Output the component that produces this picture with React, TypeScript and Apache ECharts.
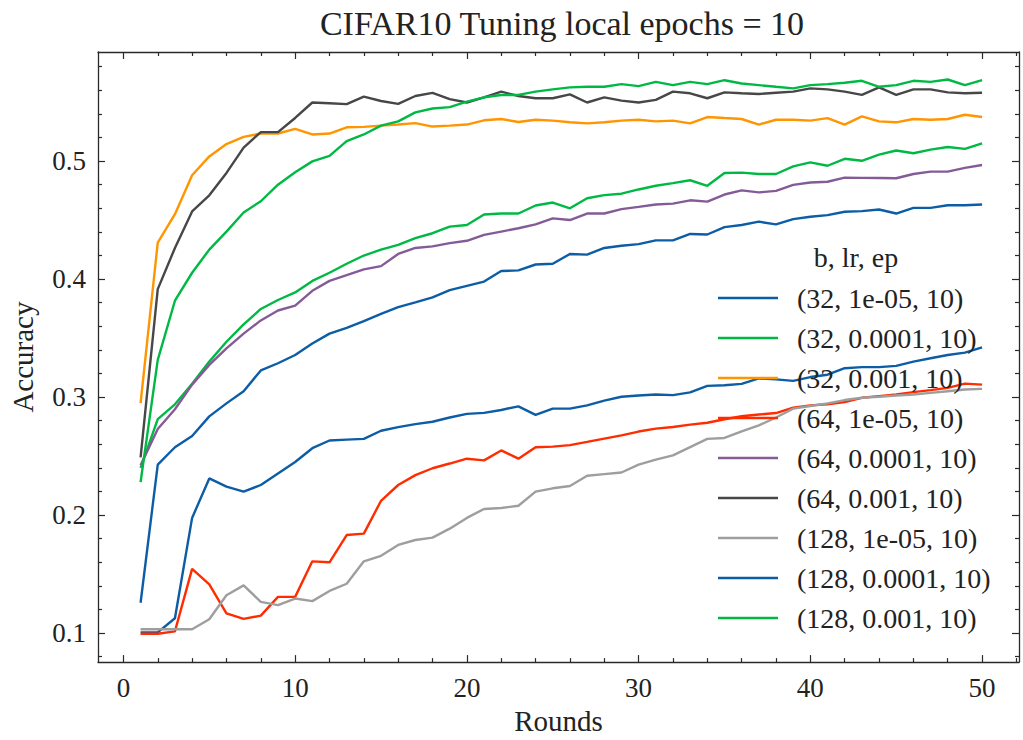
import React, { useEffect, useRef } from "react";
import * as echarts from "echarts";

const ROUNDS = [1,2,3,4,5,6,7,8,9,10,11,12,13,14,15,16,17,18,19,20,21,22,23,24,25,26,27,28,29,30,31,32,33,34,35,36,37,38,39,40,41,42,43,44,45,46,47,48,49,50];

const NAMES = [
  "(32, 1e-05, 10)",
  "(32, 0.0001, 10)",
  "(32, 0.001, 10)",
  "(64, 1e-05, 10)",
  "(64, 0.0001, 10)",
  "(64, 0.001, 10)",
  "(128, 1e-05, 10)",
  "(128, 0.0001, 10)",
  "(128, 0.001, 10)",
];

const COLORS = ["#0C5DA5", "#00B945", "#FF9500", "#FF2C00", "#845B97", "#474747", "#9e9e9e", "#0C5DA5", "#00B945"];

const S_32_1e5 = [0.1006,0.1006,0.1126,0.1976,0.2311,0.2241,0.2199,0.2255,0.2353,0.2450,0.2567,0.2632,0.2640,0.2646,0.2715,0.2745,0.2771,0.2791,0.2827,0.2858,0.2866,0.2891,0.2922,0.2850,0.2902,0.2902,0.2930,0.2970,0.3003,0.3014,0.3022,0.3017,0.3040,0.3095,0.3100,0.3112,0.3158,0.3150,0.3138,0.3170,0.3190,0.3245,0.3254,0.3254,0.3265,0.3301,0.3329,0.3357,0.3377,0.3421];
const S_32_1e4 = [0.2400,0.2813,0.2939,0.3114,0.3301,0.3469,0.3616,0.3747,0.3823,0.3887,0.3985,0.4054,0.4130,0.4200,0.4250,0.4291,0.4347,0.4389,0.4445,0.4459,0.4548,0.4556,0.4556,0.4624,0.4649,0.4600,0.4685,0.4712,0.4724,0.4760,0.4791,0.4814,0.4838,0.4791,0.4900,0.4903,0.4891,0.4891,0.4956,0.4989,0.4961,0.5020,0.5003,0.5055,0.5090,0.5067,0.5098,0.5120,0.5104,0.5151];
const S_32_1e3 = [0.2950,0.4310,0.4550,0.4880,0.5040,0.5145,0.5206,0.5234,0.5234,0.5273,0.5226,0.5234,0.5287,0.5290,0.5301,0.5311,0.5322,0.5293,0.5301,0.5310,0.5346,0.5357,0.5332,0.5351,0.5343,0.5329,0.5320,0.5329,0.5343,0.5351,0.5337,0.5343,0.5320,0.5374,0.5365,0.5357,0.5310,0.5351,0.5351,0.5343,0.5365,0.5310,0.5379,0.5337,0.5329,0.5357,0.5351,0.5357,0.5393,0.5374];
const S_64_1e5 = [0.0994,0.0994,0.1014,0.1544,0.1413,0.1167,0.1120,0.1148,0.1307,0.1307,0.1608,0.1600,0.1831,0.1843,0.2121,0.2255,0.2339,0.2397,0.2437,0.2478,0.2464,0.2548,0.2478,0.2575,0.2580,0.2593,0.2620,0.2648,0.2676,0.2708,0.2733,0.2747,0.2767,0.2783,0.2812,0.2838,0.2852,0.2865,0.2911,0.2930,0.2939,0.2958,0.2994,0.3008,0.3022,0.3042,0.3059,0.3078,0.3114,0.3106];
const S_64_1e4 = [0.2423,0.2730,0.2897,0.3106,0.3273,0.3413,0.3538,0.3650,0.3734,0.3775,0.3901,0.3985,0.4033,0.4082,0.4110,0.4213,0.4264,0.4278,0.4305,0.4325,0.4375,0.4403,0.4431,0.4464,0.4515,0.4501,0.4556,0.4556,0.4593,0.4612,0.4632,0.4640,0.4668,0.4657,0.4717,0.4752,0.4735,0.4748,0.4799,0.4819,0.4825,0.4860,0.4858,0.4857,0.4855,0.4891,0.4911,0.4911,0.4943,0.4967];
const S_64_1e3 = [0.2490,0.3915,0.4264,0.4574,0.4710,0.4900,0.5115,0.5246,0.5246,0.5366,0.5497,0.5491,0.5483,0.5547,0.5510,0.5485,0.5552,0.5578,0.5525,0.5497,0.5541,0.5589,0.5552,0.5533,0.5533,0.5566,0.5497,0.5541,0.5513,0.5497,0.5519,0.5589,0.5575,0.5533,0.5583,0.5575,0.5569,0.5580,0.5589,0.5617,0.5608,0.5589,0.5561,0.5625,0.5561,0.5608,0.5608,0.5583,0.5575,0.5580];
const S_128_1e5 = [0.1033,0.1033,0.1033,0.1033,0.1117,0.1321,0.1404,0.1265,0.1237,0.1293,0.1271,0.1357,0.1418,0.1608,0.1655,0.1747,0.1789,0.1809,0.1885,0.1976,0.2052,0.2060,0.2079,0.2199,0.2227,0.2247,0.2333,0.2347,0.2361,0.2428,0.2470,0.2506,0.2576,0.2646,0.2654,0.2710,0.2760,0.2827,0.2902,0.2925,0.2947,0.2975,0.2994,0.3003,0.3014,0.3022,0.3036,0.3050,0.3064,0.3070];
const S_128_1e4 = [0.1257,0.2428,0.2575,0.2670,0.2837,0.2947,0.3050,0.3226,0.3287,0.3357,0.3455,0.3538,0.3587,0.3644,0.3706,0.3762,0.3803,0.3845,0.3907,0.3943,0.3979,0.4069,0.4074,0.4124,0.4130,0.4213,0.4208,0.4264,0.4283,0.4297,0.4328,0.4328,0.4383,0.4378,0.4441,0.4459,0.4487,0.4464,0.4509,0.4529,0.4542,0.4571,0.4576,0.4590,0.4556,0.4604,0.4604,0.4626,0.4626,0.4632];
const S_128_1e3 = [0.2280,0.3315,0.3817,0.4054,0.4250,0.4403,0.4565,0.4660,0.4800,0.4905,0.4998,0.5045,0.5170,0.5226,0.5301,0.5337,0.5413,0.5446,0.5458,0.5505,0.5541,0.5561,0.5561,0.5589,0.5608,0.5625,0.5630,0.5630,0.5653,0.5636,0.5672,0.5644,0.5672,0.5653,0.5686,0.5658,0.5644,0.5630,0.5617,0.5644,0.5653,0.5664,0.5681,0.5630,0.5644,0.5681,0.5672,0.5692,0.5644,0.5686];

const SERIES_VALUES = [S_32_1e5, S_32_1e4, S_32_1e3, S_64_1e5, S_64_1e4, S_64_1e3, S_128_1e5, S_128_1e4, S_128_1e3];

const X_MAJOR = [0, 10, 20, 30, 40, 50];
const X_MINOR = [2, 4, 6, 8, 12, 14, 16, 18, 22, 24, 26, 28, 32, 34, 36, 38, 42, 44, 46, 48, 52];
const Y_MAJOR = [0.1, 0.2, 0.3, 0.4, 0.5];
const Y_MINOR = [0.08, 0.12, 0.14, 0.16, 0.18, 0.22, 0.24, 0.26, 0.28, 0.32, 0.34, 0.36, 0.38, 0.42, 0.44, 0.46, 0.48, 0.52, 0.54, 0.56, 0.58];

const TITLE = "CIFAR10 Tuning local epochs = 10";
const LEGEND_TITLE = "b, lr, ep";
const X_NAME = "Rounds";
const Y_NAME = "Accuracy";

const FONT = "'Liberation Serif', 'DejaVu Serif', serif";
const AX = "#2a2a2a";
const X_MIN = -1.48, X_MAX = 52.15;
const Y_MIN = 0.0754, Y_MAX = 0.5925;

function makeAxis(kind: "x" | "y", position: string, ticks: number[], len: number, showLine: boolean, labels: boolean, extra: any = {}) {
  return {
    type: "value",
    position,
    min: kind === "x" ? X_MIN : Y_MIN,
    max: kind === "x" ? X_MAX : Y_MAX,
    axisLine: { show: showLine, onZero: false, lineStyle: { color: AX, width: 1.3 } },
    axisTick: { show: true, inside: true, length: len, customValues: ticks, lineStyle: { color: AX, width: 1.2 } },
    axisLabel: labels
      ? {
          show: true,
          customValues: ticks,
          fontFamily: FONT,
          fontSize: 27,
          color: "#222",
          margin: 12,
          formatter: (v: number) => (kind === "x" ? String(Math.round(v)) : String(+v.toFixed(1))),
        }
      : { show: false },
    splitLine: { show: false },
    ...extra,
  };
}

export default function App() {
  const ref = useRef<HTMLDivElement>(null);
  useEffect(() => {
    if (!ref.current) return;
    const chart = echarts.init(ref.current, undefined, { renderer: "svg" });
    const series = NAMES.map((name, i) => ({
      name,
      type: "line",
      xAxisIndex: 0,
      yAxisIndex: 0,
      data: ROUNDS.map((r, j) => [r, SERIES_VALUES[i][j]]),
      symbol: "none",
      showSymbol: false,
      lineStyle: { color: COLORS[i], width: 2.4 },
      itemStyle: { color: COLORS[i] },
      z: 2,
    }));
    chart.setOption({
      animation: false,
      backgroundColor: "#ffffff",
      title: {
        text: TITLE,
        left: 557,
        textAlign: "center",
        top: 1,
        textStyle: { fontFamily: FONT, fontSize: 34, fontWeight: "normal", color: "#222" },
      },
      grid: { left: 95, top: 52, width: 924, height: 617, containLabel: false },
      xAxis: [
        makeAxis("x", "bottom", X_MAJOR, 7, true, true, {
          name: X_NAME,
          nameLocation: "middle",
          nameGap: 39,
          nameTextStyle: { fontFamily: FONT, fontSize: 29, color: "#222" },
        }),
        makeAxis("x", "bottom", X_MINOR, 4, false, false),
        makeAxis("x", "top", X_MAJOR, 7, true, false),
        makeAxis("x", "top", X_MINOR, 4, false, false),
      ],
      yAxis: [
        makeAxis("y", "left", Y_MAJOR, 7, true, true, {
          name: Y_NAME,
          nameLocation: "middle",
          nameGap: 61,
          nameRotate: 90,
          nameTextStyle: { fontFamily: FONT, fontSize: 29, color: "#222" },
        }),
        makeAxis("y", "left", Y_MINOR, 4, false, false),
        makeAxis("y", "right", Y_MAJOR, 7, true, false),
        makeAxis("y", "right", Y_MINOR, 4, false, false),
      ],
      legend: {
        show: true,
        orient: "vertical",
        left: 718,
        top: 284,
        padding: 0,
        itemWidth: 60,
        itemHeight: 27,
        itemGap: 12,
        icon: "path://M0,0 L60,0 L60,2.4 L0,2.4 Z",
        data: NAMES,
        textStyle: { fontFamily: FONT, fontSize: 28, lineHeight: 27, color: "#222", padding: [0, 0, 0, 14] },
      },
      graphic: [
        {
          type: "text",
          x: 856,
          y: 257,
          style: { text: LEGEND_TITLE, font: `28px ${FONT}`, fill: "#222", textAlign: "center", textVerticalAlign: "middle" },
        },
      ],
      series,
    });
    return () => chart.dispose();
  }, []);
  return <div ref={ref} style={{ position: "absolute", left: 0, top: 0, width: 1023, height: 740, background: "#fff" }} />;
}
